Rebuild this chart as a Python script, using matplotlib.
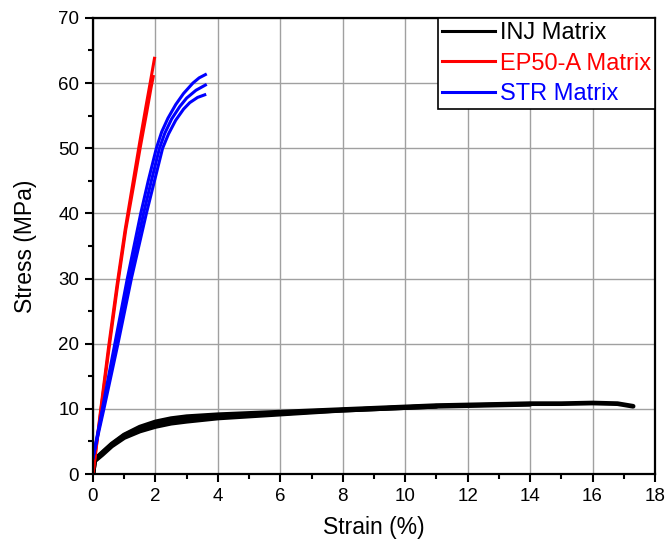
import matplotlib
matplotlib.use("Agg")
import matplotlib.pyplot as plt
from matplotlib.ticker import MultipleLocator
from matplotlib.lines import Line2D

plt.rcParams['font.family'] = ['Liberation Sans', 'DejaVu Sans']

# INJ Matrix (black) - three specimens
inj1_x = [0.0, 0.05, 0.3, 0.6, 1.0, 1.5, 2.0, 2.5, 3.0, 4.0, 5.0, 6.0, 7.0, 8.0, 9.0, 10.0, 11.0, 12.0, 13.0, 14.0, 15.0, 16.0, 16.8, 17.3]
inj1_y = [0.0, 2.2, 3.3, 4.6, 6.0, 7.2, 8.0, 8.5, 8.8, 9.1, 9.3, 9.5, 9.7, 9.9, 10.1, 10.3, 10.5, 10.6, 10.7, 10.8, 10.8, 10.9, 10.8, 10.4]
inj2_x = [0.0, 0.05, 0.3, 0.6, 1.0, 1.5, 2.0, 2.5, 3.0, 4.0, 5.0, 6.0, 7.0, 8.0, 9.0, 10.0, 11.0, 12.0, 13.0, 14.0]
inj2_y = [0.0, 2.0, 3.0, 4.3, 5.6, 6.6, 7.3, 7.8, 8.1, 8.6, 8.9, 9.2, 9.5, 9.8, 10.0, 10.2, 10.4, 10.5, 10.6, 10.7]
inj3_x = [0.0, 0.05, 0.3, 0.6, 1.0, 1.5, 2.0, 2.5, 3.0, 4.0, 5.0, 6.0, 7.0, 8.0, 9.0, 10.0, 11.0]
inj3_y = [0.0, 2.1, 3.2, 4.5, 5.9, 7.0, 7.7, 8.1, 8.4, 8.8, 9.1, 9.3, 9.6, 9.8, 10.0, 10.2, 10.4]

# EP50-A Matrix (red) - two specimens
ep1_x = [0.0, 0.25, 0.5, 0.77, 1.03, 1.29, 1.5, 1.7, 1.85, 1.97]
ep1_y = [0.0, 10.0, 19.5, 29.0, 37.5, 45.0, 51.0, 56.5, 60.5, 63.8]
ep2_x = [0.0, 0.26, 0.52, 0.79, 1.05, 1.31, 1.52, 1.72, 1.86, 1.93]
ep2_y = [0.0, 10.0, 19.5, 29.0, 37.5, 44.5, 50.3, 55.5, 59.3, 61.0]

# STR Matrix (blue) - three specimens
str1_x = [0.0, 0.3, 0.7, 1.1, 1.53, 1.77, 2.03, 2.2, 2.4, 2.65, 2.9, 3.2, 3.4, 3.6]
str1_y = [2.5, 10.0, 20.0, 30.0, 40.0, 45.0, 50.0, 52.5, 54.6, 56.7, 58.4, 60.0, 60.8, 61.3]
str2_x = [0.0, 0.32, 0.75, 1.17, 1.62, 1.87, 2.13, 2.3, 2.52, 2.78, 3.0, 3.3, 3.6]
str2_y = [2.5, 10.0, 20.0, 30.0, 40.0, 45.0, 50.0, 52.3, 54.5, 56.4, 57.7, 58.9, 59.7]
str3_x = [0.0, 0.35, 0.8, 1.23, 1.71, 1.97, 2.23, 2.42, 2.65, 2.9, 3.1, 3.35, 3.58]
str3_y = [2.5, 10.0, 20.0, 30.0, 40.0, 45.0, 50.0, 52.2, 54.3, 56.0, 57.0, 57.8, 58.2]

legend_labels = ["INJ Matrix", "EP50-A Matrix", "STR Matrix"]
colors = ["black", "#ff0000", "#0000ff"]

fig = plt.figure(figsize=(6.67, 5.43), dpi=100)
ax = fig.add_axes([0.1394, 0.127, 0.8426, 0.840])

lw_inj = 3.4
for xs, ys in [(inj3_x, inj3_y), (inj2_x, inj2_y), (inj1_x, inj1_y)]:
    ax.plot(xs, ys, color=colors[0], lw=lw_inj, solid_capstyle='round')
for xs, ys in [(ep2_x, ep2_y), (ep1_x, ep1_y)]:
    ax.plot(xs, ys, color=colors[1], lw=2.2)
for xs, ys in [(str3_x, str3_y), (str2_x, str2_y), (str1_x, str1_y)]:
    ax.plot(xs, ys, color=colors[2], lw=2.2)

ax.set_xlim(0, 18)
ax.set_ylim(0, 70)
ax.xaxis.set_major_locator(MultipleLocator(2))
ax.xaxis.set_minor_locator(MultipleLocator(1))
ax.yaxis.set_major_locator(MultipleLocator(10))
ax.yaxis.set_minor_locator(MultipleLocator(5))
ax.grid(True, which='major', color='#a0a0a0', lw=1.0)
ax.set_axisbelow(True)

for s in ax.spines.values():
    s.set_linewidth(1.6)
    s.set_color('black')
ax.tick_params(which='major', direction='out', length=6, width=1.5, labelsize=13.5, pad=4)
ax.tick_params(which='minor', direction='out', length=3.5, width=1.5)

ax.set_xlabel("Strain (%)", fontsize=16.5, labelpad=8)
ax.set_ylabel("Stress (MPa)", fontsize=16.5, labelpad=15)

handles = [Line2D([0], [0], color=c, lw=2.2) for c in colors]
leg = ax.legend(handles, legend_labels, loc='upper right', fontsize=17, frameon=True, fancybox=False,
                edgecolor='black', framealpha=1, borderaxespad=0, handlelength=2.25,
                handletextpad=0.2, labelspacing=0.36, borderpad=0.18)
leg.get_frame().set_linewidth(1.2)
for t, c in zip(leg.get_texts(), colors):
    t.set_color(c)

fig.savefig("out.png", dpi=100)
